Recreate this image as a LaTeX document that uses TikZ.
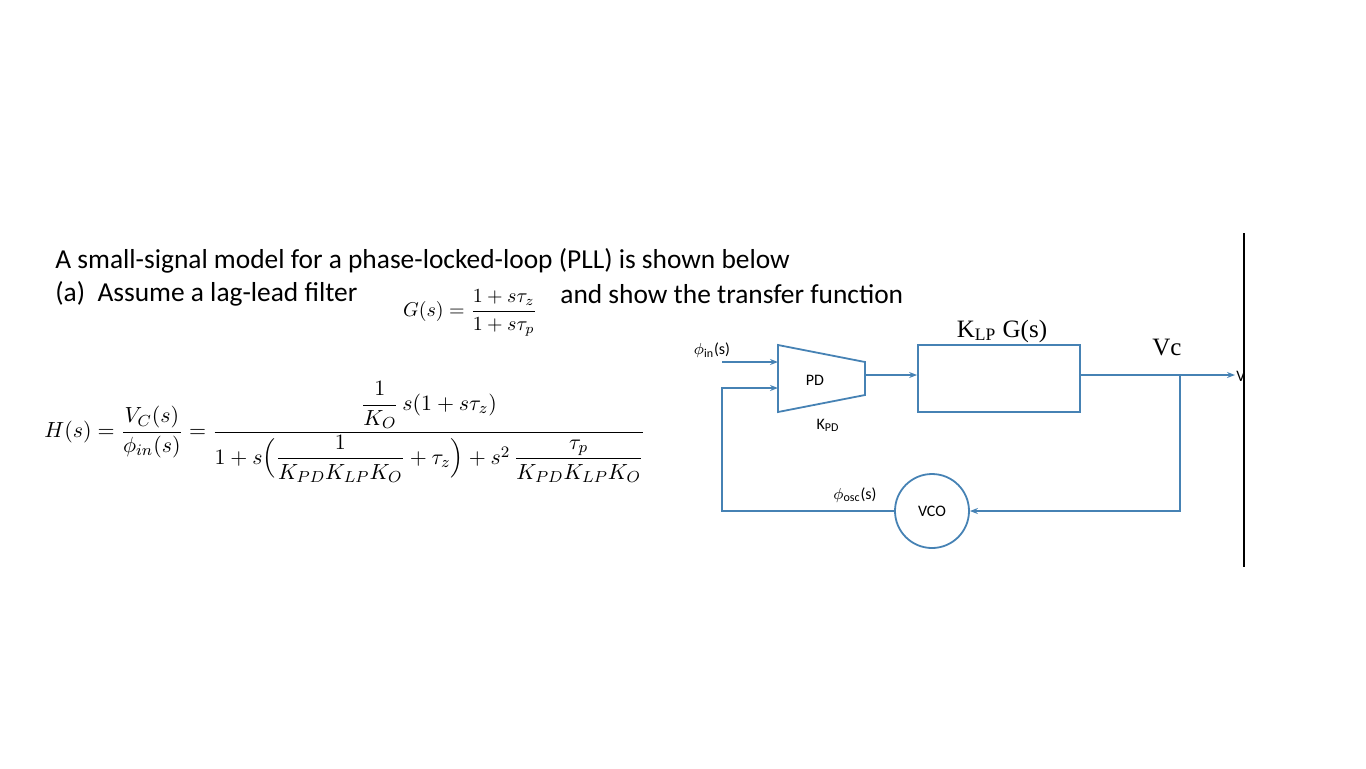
\documentclass[tikz,border=0pt]{standalone}
\usepackage{fontspec}
\setmainfont{Carlito}
\newfontfamily\tms{Liberation Serif}
\usepackage{amsmath}
\usetikzlibrary{arrows.meta}
\begin{document}
\begin{tikzpicture}[x=0.5pt,y=-0.5pt,
  blu/.style={draw=bl,line width=0.9pt},
  arr/.style={blu,-{Stealth[length=4pt,width=3pt,open]}},
  lab/.style={font=\fontsize{8}{9}\selectfont,inner sep=0pt},
  txt/.style={anchor=west,font=\fontsize{13.7}{15}\selectfont,inner sep=0}]
\definecolor{bl}{RGB}{70,130,180}
\useasboundingbox (0,0) rectangle (1366,768);
\node[txt] (t1) at (55,261) {A small-signal model for a phase-locked-loop (PLL) is shown below};
\node[txt] (t2) at (55,294) {(a)\ \ Assume a lag-lead filter};
\node[txt] (t3) at (560,294) {and show the transfer function};
\node[inner sep=0] (g) at (470,313) {\fontsize{10}{11}\selectfont$G(s)=\dfrac{1+s\tau_z}{1+s\tau_p}$};
\node[inner sep=0] (h) at (345,432) {\fontsize{11}{12}\selectfont$H(s)=\dfrac{V_C(s)}{\phi_{in}(s)}=\dfrac{\dfrac{1}{K_O}\,s(1+s\tau_z)}{1+s\Bigl(\dfrac{1}{K_{PD}K_{LP}K_O}+\tau_z\Bigr)+s^2\,\dfrac{\tau_p}{K_{PD}K_{LP}K_O}}$};
% diagram
\draw[blu] (778,345) -- (865,362) -- (865,395) -- (778,412) -- cycle;
\node[lab] (pd) at (815,380) {PD};
\node[lab] (kpd) at (828,425) {K\textsubscript{PD}};
\node[blu,minimum width=162pt*0.5,minimum height=67pt*0.5,inner sep=0] (lp) at (999,378.5) {};
\node[font=\tms\fontsize{12.5}{13}\selectfont,inner sep=0] (lpl) at (1002,331) {K\textsubscript{LP} G(s)};
\node[font=\tms\fontsize{12.5}{13}\selectfont,inner sep=0] (vc) at (1167,347) {Vc};
\node[blu,circle,minimum size=37pt,inner sep=0] (vco) at (932,511) {};
\node[lab] at (vco) {VCO};
\node[lab] (phin) at (712,350) {$\phi$\textsubscript{in}(s)};
\node[lab] (phosc) at (855,495) {$\phi$\textsubscript{osc}(s)};
\coordinate (i0) at (722,362);
\coordinate (i1) at (778,362);
\coordinate (f1) at (778,388);
\coordinate (f0) at (722,388);
\coordinate (fb) at (722,511);
\coordinate (o1) at (1235,375);
\coordinate (br) at (1180,375);
\coordinate (bb) at (1180,511);
\draw[arr] (i0) -- (i1);
\draw[arr] (vco.west) -- (fb) -- (f0) -- (f1);
\draw[arr] (865,375) -- (lp.west |- 0,375);
\draw[arr] (lp.east |- 0,375) -- (o1);
\draw[arr] (br) -- (bb) -- (vco.east);
\node[lab,anchor=west] (v) at (1236,376) {V};
\fill[white] (1245,360) rectangle (1260,390);
\draw[line width=1pt] (1244,233) -- (1244,567);
\end{tikzpicture}
\end{document}
